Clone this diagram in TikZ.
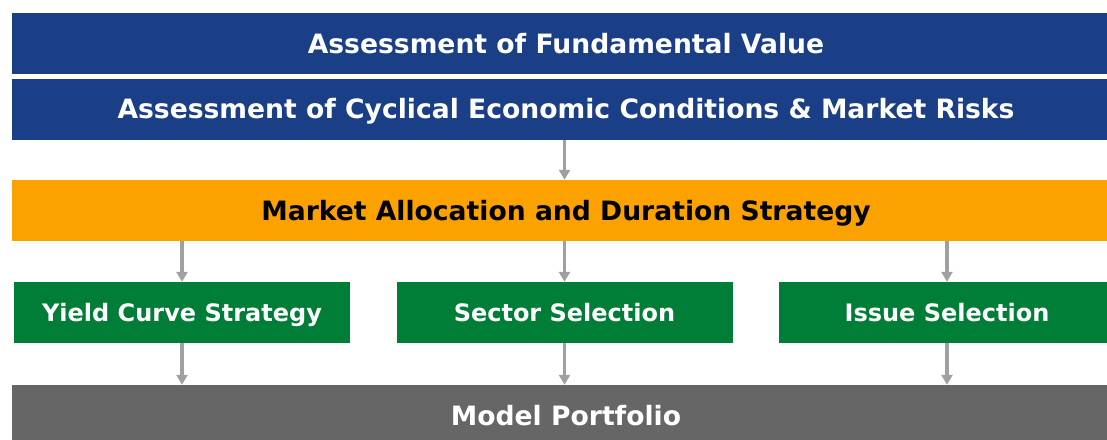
\documentclass[tikz,border=0pt]{standalone}
\usepackage{fontspec}
\setmainfont{DejaVu Sans}
\usetikzlibrary{arrows.meta}
\definecolor{bandblue}{HTML}{1B3F86}
\definecolor{bandorange}{HTML}{FBA100}
\definecolor{bandgreen}{HTML}{007D36}
\definecolor{bandgray}{HTML}{666666}
\definecolor{arrowgray}{HTML}{A0A0A0}
\tikzset{
	band/.style={rectangle, inner sep=0pt, minimum height=61pt, text height=19.3pt, text depth=0pt, font=\fontsize{26.6}{30}\selectfont\bfseries, text=white},
	wideband/.style={band, minimum width=1108pt},
	smallband/.style={band, minimum width=336pt, fill=bandgreen, text height=17.5pt, font=\fontsize{24}{28}\selectfont\bfseries},
	flow/.style={draw=arrowgray, line width=3.5pt, -{Triangle[width=11pt,length=10pt]}}
}
\begin{document}
\begin{tikzpicture}[x=1pt,y=-1pt]
		%%%%% START %%%%%
		\useasboundingbox (0,0) rectangle (1107,439);
		
		\node[wideband, fill=bandblue] (value) at (566, 43.5) {Assessment of Fundamental Value};
		\node[wideband, fill=bandblue] (cycle) at (566, 109) {Assessment of Cyclical Economic Conditions \& Market Risks};
		
		\node[wideband, fill=bandorange, text=black] (alloc) at (566, 210.5) {Market Allocation and Duration Strategy};
		
		\node[smallband] (curve) at (182, 312.5) {Yield Curve Strategy};
		\node[smallband] (sector) at (564.5, 312.5) {Sector Selection};
		\node[smallband] (issue) at (947, 312.5) {Issue Selection};
		
		\node[wideband, fill=bandgray] (model) at (566, 415.5) {Model Portfolio};
		
		\draw[flow] (cycle.south -| sector.north) -- (alloc.north -| sector.north);
		
		\draw[flow] (alloc.south -| curve.north) -- (curve.north);
		\draw[flow] (alloc.south -| sector.north) -- (sector.north);
		\draw[flow] (alloc.south -| issue.north) -- (issue.north);
		
		\draw[flow] (curve.south) -- (model.north -| curve.south);
		\draw[flow] (sector.south) -- (model.north -| sector.south);
		\draw[flow] (issue.south) -- (model.north -| issue.south);
		
		%%%%% END %%%%%
\end{tikzpicture}
\end{document}
